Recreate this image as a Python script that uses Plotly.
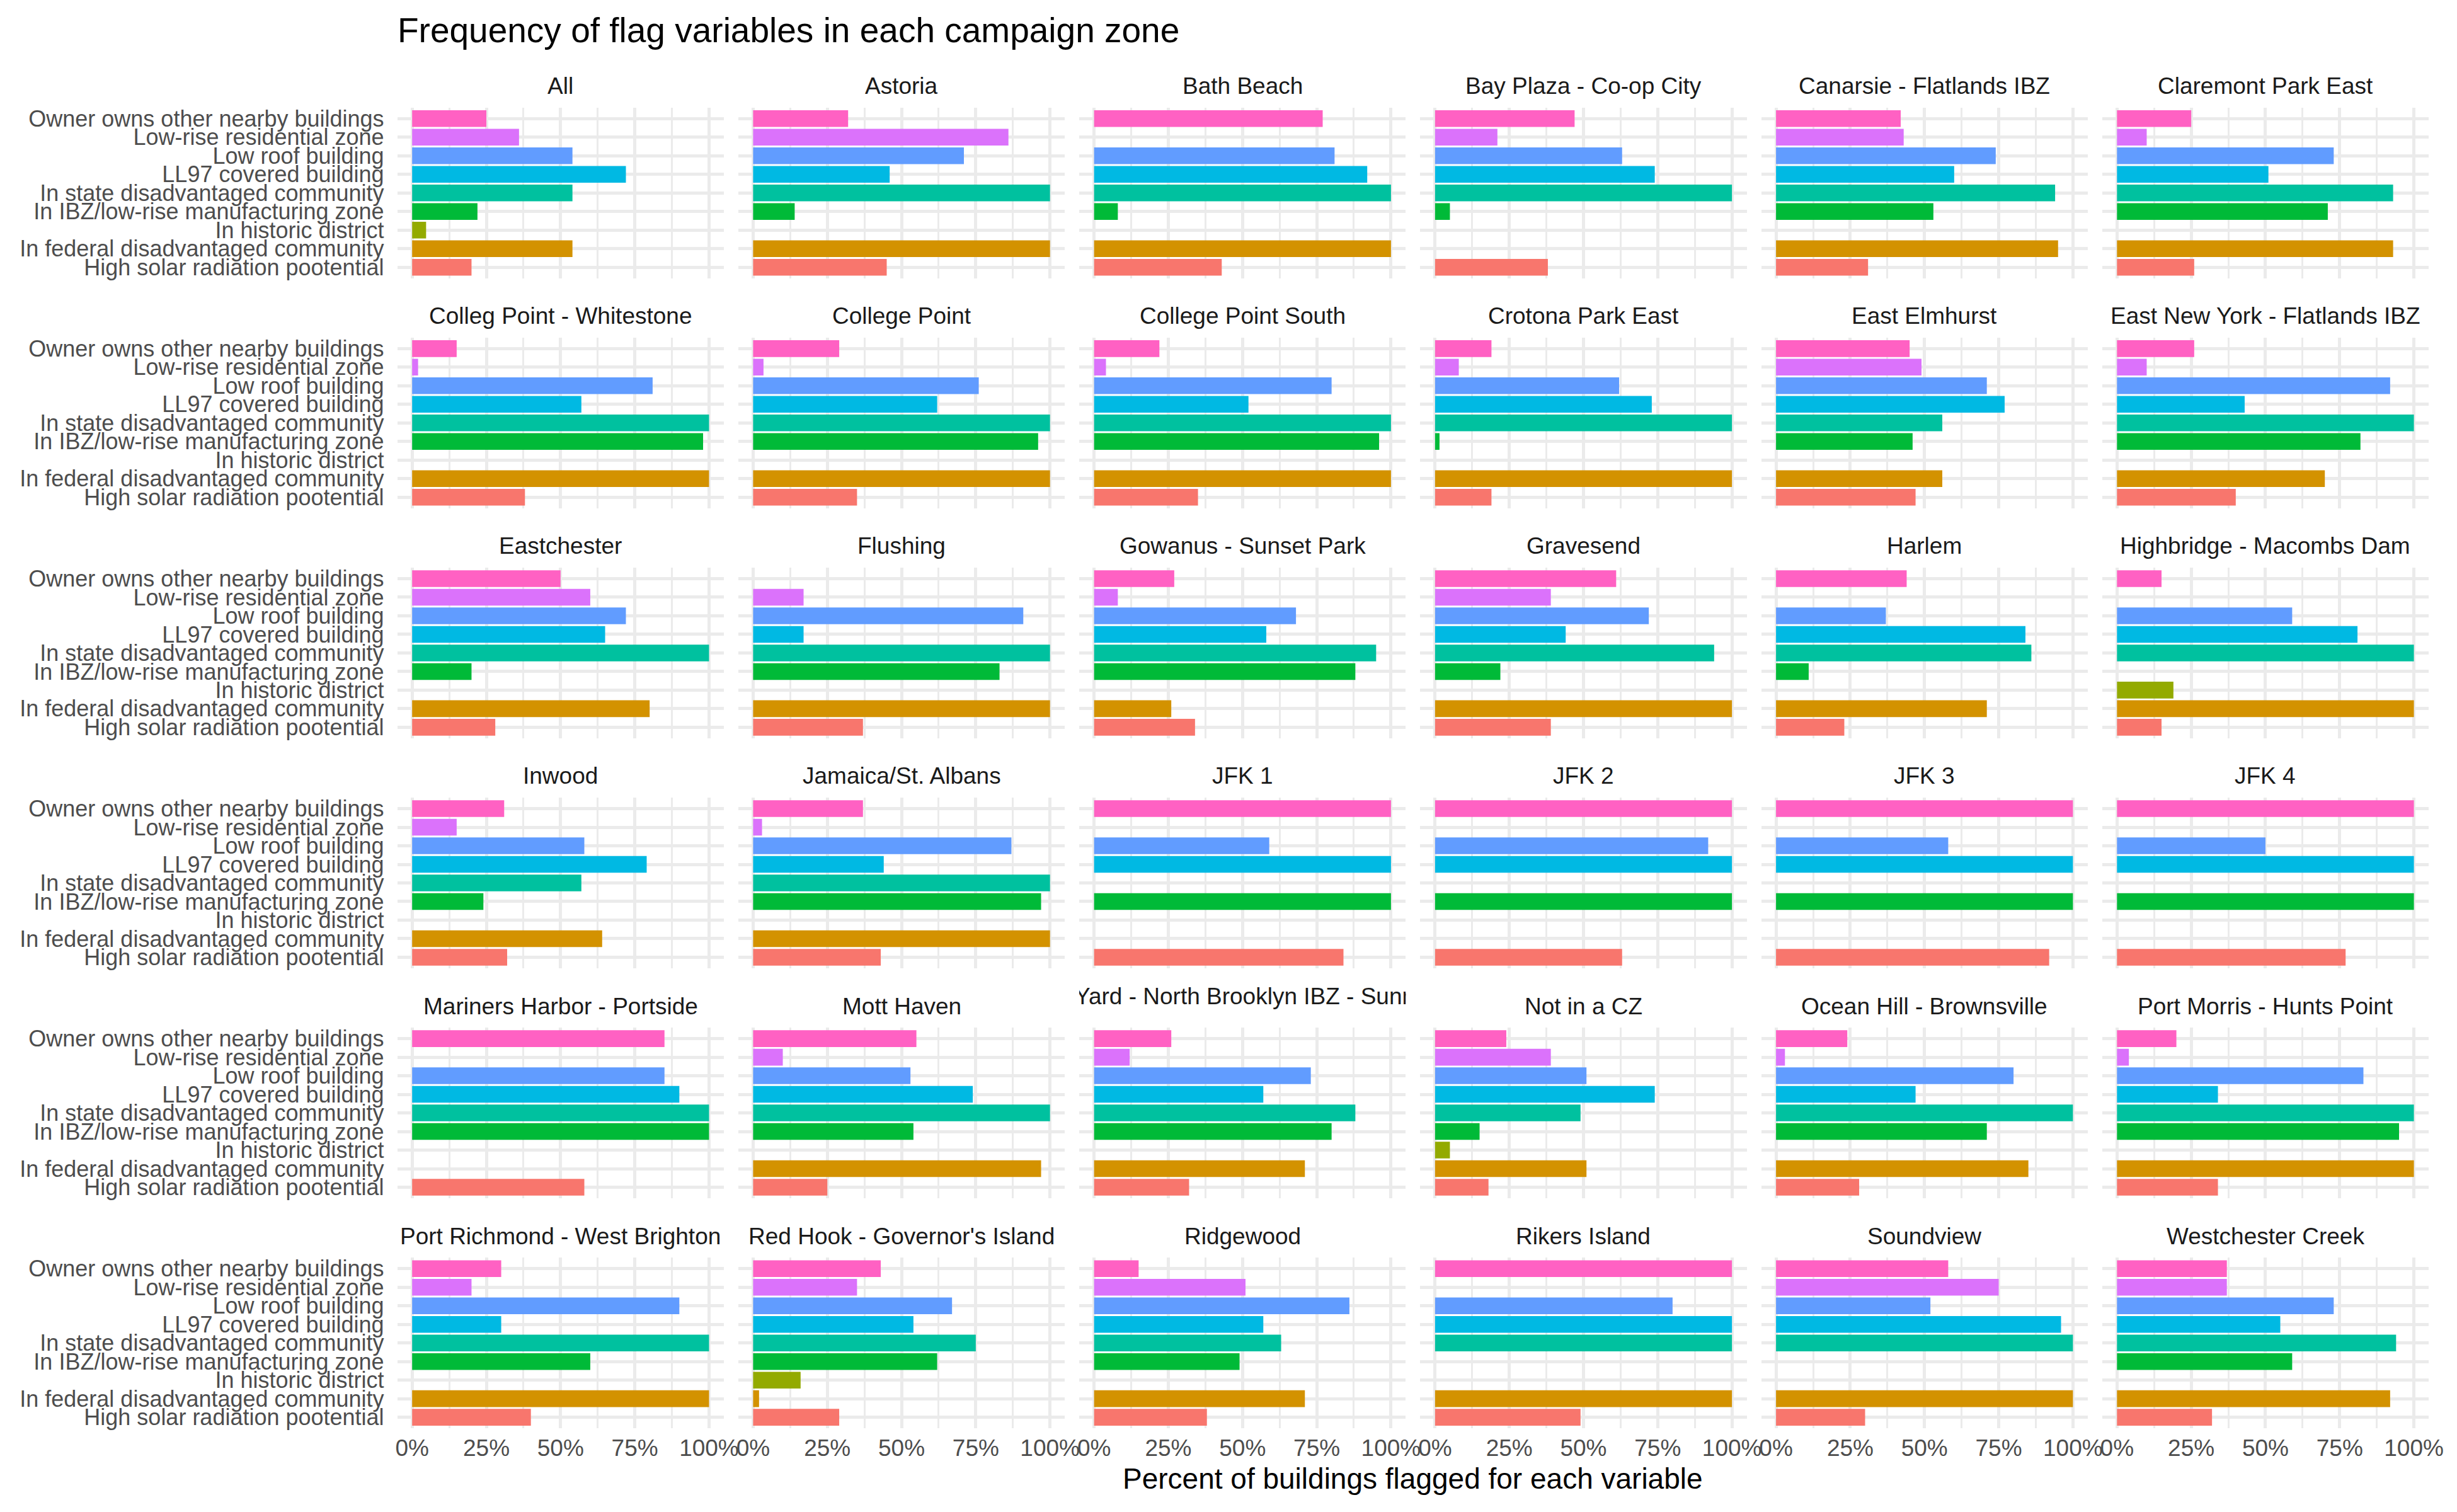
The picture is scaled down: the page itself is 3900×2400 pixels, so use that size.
import plotly.graph_objects as go

# ---------------- data ----------------
zones = [
    "All", "Astoria", "Bath Beach", "Bay Plaza - Co-op City", "Canarsie - Flatlands IBZ", "Claremont Park East",
    "Colleg Point - Whitestone", "College Point", "College Point South", "Crotona Park East", "East Elmhurst", "East New York - Flatlands IBZ",
    "Eastchester", "Flushing", "Gowanus - Sunset Park", "Gravesend", "Harlem", "Highbridge - Macombs Dam",
    "Inwood", "Jamaica/St. Albans", "JFK 1", "JFK 2", "JFK 3", "JFK 4",
    "Mariners Harbor - Portside", "Mott Haven", "Navy Yard - North Brooklyn IBZ - Sunnyside", "Not in a CZ", "Ocean Hill - Brownsville", "Port Morris - Hunts Point",
    "Port Richmond - West Brighton", "Red Hook - Governor's Island", "Ridgewood", "Rikers Island", "Soundview", "Westchester Creek",
]

# flag variables, bottom to top (factor level order)
flags = [
    "High solar radiation pootential",
    "In federal disadvantaged community",
    "In historic district",
    "In IBZ/low-rise manufacturing zone",
    "In state disadvantaged community",
    "LL97 covered building",
    "Low roof building",
    "Low-rise residential zone",
    "Owner owns other nearby buildings",
]

solar = [0.20, 0.45, 0.43, 0.38, 0.31, 0.26,
         0.38, 0.35, 0.35, 0.19, 0.47, 0.40,
         0.28, 0.37, 0.34, 0.39, 0.23, 0.15,
         0.32, 0.43, 0.84, 0.63, 0.92, 0.77,
         0.58, 0.25, 0.32, 0.18, 0.28, 0.34,
         0.40, 0.29, 0.38, 0.49, 0.30, 0.32]
federal = [0.54, 1.00, 1.00, 0.00, 0.95, 0.93,
           1.00, 1.00, 1.00, 1.00, 0.56, 0.70,
           0.80, 1.00, 0.26, 1.00, 0.71, 1.00,
           0.64, 1.00, 0.00, 0.00, 0.00, 0.00,
           0.00, 0.97, 0.71, 0.51, 0.85, 1.00,
           1.00, 0.02, 0.71, 1.00, 1.00, 0.92]
historic = [0.047, 0.0, 0.0, 0.0, 0.0, 0.0,
            0.0, 0.0, 0.0, 0.0, 0.0, 0.0,
            0.0, 0.0, 0.0, 0.0, 0.0, 0.19,
            0.0, 0.0, 0.0, 0.0, 0.0, 0.0,
            0.0, 0.0, 0.0, 0.05, 0.0, 0.0,
            0.0, 0.16, 0.0, 0.0, 0.0, 0.0]
ibz = [0.22, 0.14, 0.08, 0.05, 0.53, 0.71,
       0.98, 0.96, 0.96, 0.015, 0.46, 0.82,
       0.20, 0.83, 0.88, 0.22, 0.11, 0.00,
       0.24, 0.97, 1.00, 1.00, 1.00, 1.00,
       1.00, 0.54, 0.80, 0.15, 0.71, 0.95,
       0.60, 0.62, 0.49, 0.00, 0.00, 0.59]
state = [0.54, 1.00, 1.00, 1.00, 0.94, 0.93,
         1.00, 1.00, 1.00, 1.00, 0.56, 1.00,
         1.00, 1.00, 0.95, 0.94, 0.86, 1.00,
         0.57, 1.00, 0.00, 0.00, 0.00, 0.00,
         1.00, 1.00, 0.88, 0.49, 1.00, 1.00,
         1.00, 0.75, 0.63, 1.00, 1.00, 0.94]
ll97 = [0.72, 0.46, 0.92, 0.74, 0.60, 0.51,
        0.57, 0.62, 0.52, 0.73, 0.77, 0.43,
        0.65, 0.17, 0.58, 0.44, 0.84, 0.81,
        0.79, 0.44, 1.00, 1.00, 1.00, 1.00,
        0.90, 0.74, 0.57, 0.74, 0.47, 0.34,
        0.30, 0.54, 0.57, 1.00, 0.96, 0.55]
low_roof = [0.54, 0.71, 0.81, 0.63, 0.74, 0.73,
            0.81, 0.76, 0.80, 0.62, 0.71, 0.92,
            0.72, 0.91, 0.68, 0.72, 0.37, 0.59,
            0.58, 0.87, 0.59, 0.92, 0.58, 0.50,
            0.85, 0.53, 0.73, 0.51, 0.80, 0.83,
            0.90, 0.67, 0.86, 0.80, 0.52, 0.73]
low_rise = [0.36, 0.86, 0.00, 0.21, 0.43, 0.10,
            0.02, 0.035, 0.04, 0.08, 0.49, 0.10,
            0.60, 0.17, 0.08, 0.39, 0.00, 0.00,
            0.15, 0.03, 0.00, 0.00, 0.00, 0.00,
            0.00, 0.10, 0.12, 0.39, 0.03, 0.04,
            0.20, 0.35, 0.51, 0.00, 0.75, 0.37]
owner = [0.25, 0.32, 0.77, 0.47, 0.42, 0.25,
         0.15, 0.29, 0.22, 0.19, 0.45, 0.26,
         0.50, 0.00, 0.27, 0.61, 0.44, 0.15,
         0.31, 0.37, 1.00, 1.00, 1.00, 1.00,
         0.85, 0.55, 0.26, 0.24, 0.24, 0.20,
         0.30, 0.43, 0.15, 1.00, 0.58, 0.37]

series = [solar, federal, historic, ibz, state, ll97, low_roof, low_rise, owner]
flag_colors = ["#F8766D", "#D39200", "#93AA00", "#00BA38", "#00C19F",
               "#00B9E3", "#619CFF", "#DB72FB", "#FF61C3"]

x_tickvals = [0, 0.25, 0.5, 0.75, 1.0]
x_ticktext = ["0%", "25%", "50%", "75%", "100%"]
x_minor = [0.125, 0.375, 0.625, 0.875]

title_text = "Frequency of flag variables in each campaign zone"
x_title = "Percent of buildings flagged for each variable"

# ---------------- layout geometry (pixels) ----------------
W, H = 3900, 2400
PX0, PW, PGAP = 632, 522, 545
PY0, PH, PPITCH = 168, 272, 366
NCOL, NROW = 6, 6
FONT = "Liberation Sans, Arial, Helvetica, sans-serif"
GRID = "#EBEBEB"

fig = go.Figure()
layout = dict(
    width=W, height=H,
    margin=dict(l=0, r=0, t=0, b=0),
    paper_bgcolor="white", plot_bgcolor="white",
    showlegend=False,
    bargap=0.1,
    font=dict(family=FONT),
)
annotations = []

for i, zone in enumerate(zones):
    r, c = divmod(i, NCOL)
    n = i + 1
    xs = "x" if n == 1 else f"x{n}"
    ys = "y" if n == 1 else f"y{n}"
    left = PX0 + c * PGAP
    top = PY0 + r * PPITCH
    xd = [left / W, (left + PW) / W]
    yd = [1 - (top + PH) / H, 1 - top / H]

    vals = [s[i] for s in series]
    fig.add_trace(go.Bar(
        x=vals, y=flags, orientation="h",
        marker=dict(color=flag_colors, line=dict(width=0)),
        width=0.9, xaxis=xs, yaxis=ys, hoverinfo="x+y",
    ))

    xkey = "xaxis" if n == 1 else f"xaxis{n}"
    ykey = "yaxis" if n == 1 else f"yaxis{n}"
    layout[xkey] = dict(
        domain=xd, anchor=ys, range=[-0.05, 1.05],
        tickmode="array", tickvals=x_tickvals, ticktext=x_ticktext,
        showticklabels=(r == NROW - 1),
        tickfont=dict(size=37, color="#4D4D4D", family=FONT),
        ticks="", ticklabelstandoff=6,
        showgrid=True, gridcolor=GRID, gridwidth=4.5,
        minor=dict(tickvals=x_minor, showgrid=True, gridcolor=GRID, gridwidth=2.6, ticks=""),
        zeroline=False, showline=False, fixedrange=True,
    )
    layout[ykey] = dict(
        domain=yd, anchor=xs, type="category",
        categoryorder="array", categoryarray=flags,
        range=[-0.6, len(flags) - 0.4],
        tickmode="array", tickvals=flags, ticktext=flags,
        showticklabels=(c == 0),
        tickfont=dict(size=36, color="#4D4D4D", family=FONT),
        ticks="", ticklabelstandoff=20,
        showgrid=True, gridcolor=GRID, gridwidth=4.5,
        zeroline=False, showline=False, fixedrange=True,
    )

    cx = (left + PW / 2) / W
    cy = 1 - (top - 34) / H
    if zone.startswith("Navy Yard"):
        # strip label clipped to the panel width, as in the reference
        k = len(zones) + 1
        sy0 = top - 80
        fig.add_trace(go.Scatter(
            x=[0.5], y=[(80 - 34) / 80], mode="text", text=[zone],
            textfont=dict(size=37, color="#1A1A1A", family=FONT),
            textposition="middle center", cliponaxis=True,
            xaxis=f"x{k}", yaxis=f"y{k}", hoverinfo="skip",
        ))
        layout[f"xaxis{k}"] = dict(domain=xd, anchor=f"y{k}", range=[0, 1], visible=False, fixedrange=True)
        layout[f"yaxis{k}"] = dict(domain=[1 - top / H, 1 - sy0 / H], anchor=f"x{k}", range=[0, 1],
                                   visible=False, fixedrange=True)
    else:
        annotations.append(dict(
            x=cx, y=cy, xref="paper", yref="paper", text=zone, showarrow=False,
            xanchor="center", yanchor="middle",
            font=dict(size=37, color="#1A1A1A", family=FONT),
        ))

# title
annotations.append(dict(
    x=630 / W, y=1 - 45 / H, xref="paper", yref="paper", text=title_text, showarrow=False,
    xanchor="left", yanchor="middle", font=dict(size=55, color="black", family=FONT),
))
# x axis title
annotations.append(dict(
    x=(PX0 + (PX0 + 5 * PGAP + PW)) / 2 / W, y=1 - 2350 / H, xref="paper", yref="paper",
    text=x_title, showarrow=False, xanchor="center", yanchor="middle",
    font=dict(size=46, color="black", family=FONT),
))

layout["annotations"] = annotations
fig.update_layout(**layout)
fig.write_html("out.html")
